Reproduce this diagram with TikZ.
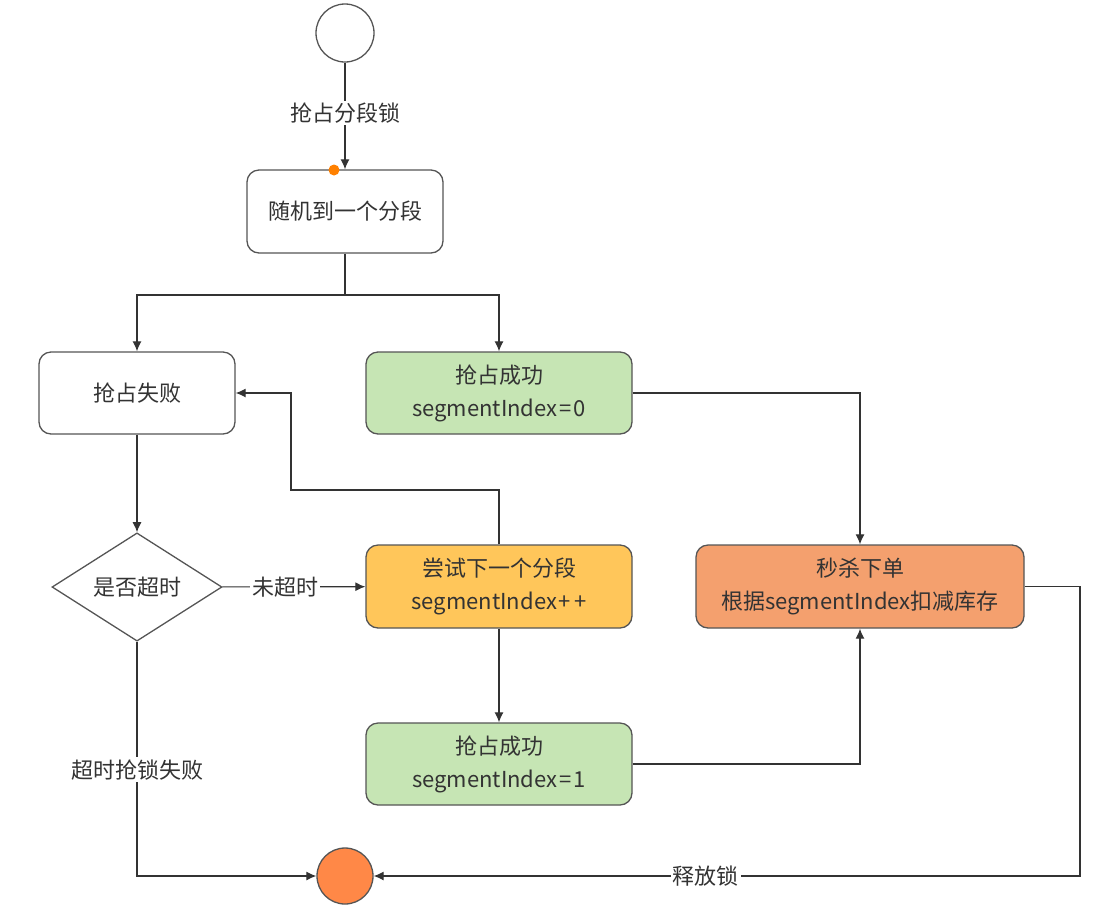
\documentclass[tikz,border=0pt]{standalone}
\usepackage{fontspec}
\setmainfont{Noto Sans CJK SC}
\usetikzlibrary{arrows.meta,shapes.geometric}
\definecolor{okgreen}{HTML}{C6E5B4}
\definecolor{tryyellow}{HTML}{FFC65A}
\definecolor{killsalmon}{HTML}{F4A06E}
\definecolor{endorange}{HTML}{FF8847}
\definecolor{dotorange}{HTML}{FF8000}
\definecolor{edge}{HTML}{555555}
\definecolor{txt}{HTML}{333333}
\newcommand{\eqk}{\kern2pt=\kern2pt}
\begin{document}
\begin{tikzpicture}[x=1pt,y=-1pt,
  font=\fontsize{22}{33}\selectfont,
  box/.style={draw=edge, line width=1.3pt, rounded corners=12pt, align=center, text=txt, inner sep=0pt},
  arr/.style={draw=txt, line width=1.2pt, -{Latex[length=10pt,width=9pt]}},
  ln/.style={draw=txt, line width=1.2pt},
  lbl/.style={fill=white, inner sep=2pt, text=txt}]
\useasboundingbox (0,0) rectangle (1097,906);
% nodes
\node[circle, draw=edge, line width=1.3pt, minimum size=58pt, inner sep=0pt] (start) at (345,33) {};
\node[box, minimum width=196pt, minimum height=83pt] (rand) at (345,211.5) {随机到一个分段};
\node[circle, fill=dotorange, inner sep=0pt, minimum size=11pt] (dot) at (334,170) {};
\node[box, minimum width=196pt, minimum height=82pt] (fail) at (137,393) {抢占失败};
\node[box, fill=okgreen, minimum width=266pt, minimum height=82pt] (ok0) at (499,393) {抢占成功\\segmentIndex\eqk0};
\node[diamond, draw=edge, line width=1.3pt, minimum width=170pt, minimum height=103pt, inner sep=0pt, text=txt] (dec) at (137,587) {是否超时};
\node[box, fill=tryyellow, minimum width=266pt, minimum height=83pt] (try) at (499,586.5) {尝试下一个分段\\segmentIndex\kern2pt+\kern3pt+};
\node[box, fill=killsalmon, minimum width=328pt, minimum height=83pt] (kill) at (860,586.5) {秒杀下单\\根据segmentIndex扣减库存};
\node[box, fill=okgreen, minimum width=266pt, minimum height=82pt] (ok1) at (499,764) {抢占成功\\segmentIndex\eqk1};
\node[circle, draw=edge, line width=1.3pt, fill=endorange, minimum size=56pt, inner sep=0pt] (end) at (345,876) {};
\coordinate (sp) at (345,295);
\coordinate (loop) at (291,490);
\coordinate (rc) at (1080,876);
% connectors
\draw[arr] (start) -- node[lbl, pos=0.47]{抢占分段锁} (rand);
\draw[ln] (rand.south) -- (sp);
\draw[arr] (sp) -| (fail.north);
\draw[arr] (sp) -| (ok0.north);
\draw[arr] (fail) -- (dec);
\draw[arr] (dec) -- node[lbl, pos=0.44]{未超时} (try);
\draw[arr] (try.north) |- (loop) |- (fail.east);
\draw[arr] (try) -- (ok1);
\draw[arr] (ok0.east) -| (kill.north);
\draw[arr] (ok1.east) -| (kill.south);
\draw[arr] (kill.east) -| (rc) -- node[lbl, pos=0.53]{释放锁} (end);
\draw[arr] (dec.south) |- node[lbl, pos=0.273]{超时抢锁失败} (end.west);
\end{tikzpicture}
\end{document}
